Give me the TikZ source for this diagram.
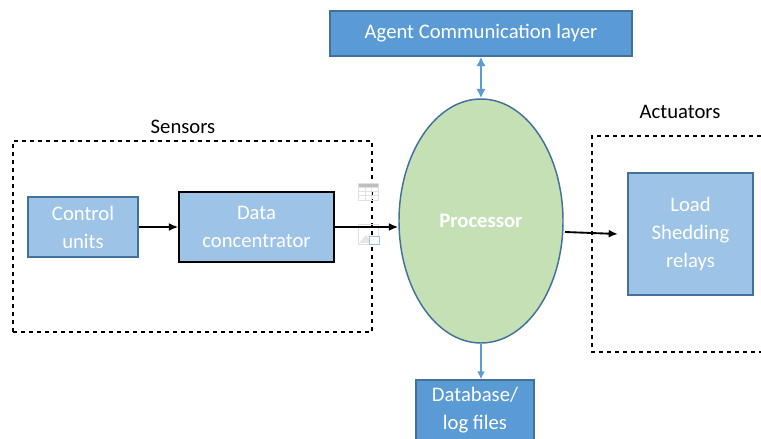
\documentclass[tikz,border=0pt]{standalone}
\usepackage{fontspec}
\setmainfont{Carlito}
\usetikzlibrary{shapes.geometric,arrows.meta}
\definecolor{darkblue}{HTML}{5B9BD5}
\definecolor{lightblue}{HTML}{9DC3E6}
\definecolor{edgeblue}{HTML}{41719C}
\definecolor{procgreen}{HTML}{C5E0B4}
\tikzset{
  bluebox/.style={draw=edgeblue, line width=1.1pt, fill=lightblue, text=white, align=center, font=\fontsize{15.5}{21}\selectfont, inner sep=0pt},
  topbox/.style={bluebox, fill=darkblue},
  dashbox/.style={draw, dashed, line width=0.8pt, inner sep=0pt},
  blackarrow/.style={line width=1.4pt, -{Latex[length=7pt,width=6pt]}},
  bluearrow/.style={draw=darkblue, line width=1.6pt},
  icon/.style={draw=black!12, line width=0.7pt}
}
\begin{document}
\begin{tikzpicture}[x=0.75pt, y=-0.75pt]
  \useasboundingbox (0,0) rectangle (761,439);

  % Sensors group
  \node[dashbox, minimum width=269.25pt, minimum height=143.25pt] (sensorbox) at (192.5,236.5) {};
  \node[font=\fontsize{15.5}{21}\selectfont] (sensors) at (183,127) {Sensors};
  \node[bluebox, minimum width=82.5pt, minimum height=45pt] (control) at (83,227) {Control\\units};
  \node[bluebox, draw=black, minimum width=116.25pt, minimum height=52.5pt] (data) at (256.5,227) {Data\\concentrator};

  % Faint icons over the dashed line
  \draw[icon, fill=black!25] (358,183) rectangle (378,187);
  \draw[icon] (358,187) rectangle (378,200);
  \foreach \x in {365,371} {
    \draw[icon] (\x,187) -- (\x,200);
  }
  \foreach \y in {191,195} {
    \draw[icon] (358,\y) -- (378,\y);
  }
  \draw[icon] (358,224) rectangle (378,244);
  \fill[black!10] (359,243) -- (366,235) -- (372,243) -- cycle;
  \draw[draw=lightblue, fill=white, line width=0.7pt] (369,236) rectangle (379,244);

  % Processor and outer boxes
  \node[ellipse, draw=edgeblue, line width=1.1pt, fill=procgreen, text=white, inner sep=0pt,
    minimum width=123pt, minimum height=183pt, font=\fontsize{15.5}{21}\selectfont\bfseries] (proc) at (481,221) {Processor};
  \node[topbox, minimum width=226.5pt, minimum height=33.75pt] (agent) at (481,33.5) {Agent Communication layer};
  \node[topbox, minimum width=88.5pt, minimum height=45pt] (db) at (475,410) {Database/\\log files};

  % Actuators group
  \node[font=\fontsize{15.5}{21}\selectfont] (actuators) at (680,112) {Actuators};
  \coordinate (acttop) at (761,136);
  \coordinate (actbot) at (761,352);
  \draw[dashed, line width=0.8pt] (acttop) -- (592,136) -- (592,352) -- (actbot);
  \node[bluebox, minimum width=93.75pt, minimum height=91.5pt] (load) at (690.5,234) {Load\\Shedding\\relays};

  % Connectors
  \coordinate (procout) at (565,232);
  \coordinate (loadin) at (618,234);
  \draw[blackarrow] (control) -- (data);
  \draw[blackarrow] (data.east) -- (data.east -| proc.west);
  \draw[blackarrow] (procout) -- (loadin);
  \draw[bluearrow, {Latex[length=7pt,width=7pt]}-{Latex[length=7pt,width=7pt]}] (agent.south) -- (proc.north);
  \draw[bluearrow, -{Latex[length=6pt,width=6pt]}] (proc.south) -- (proc.south |- db.north);
\end{tikzpicture}
\end{document}
